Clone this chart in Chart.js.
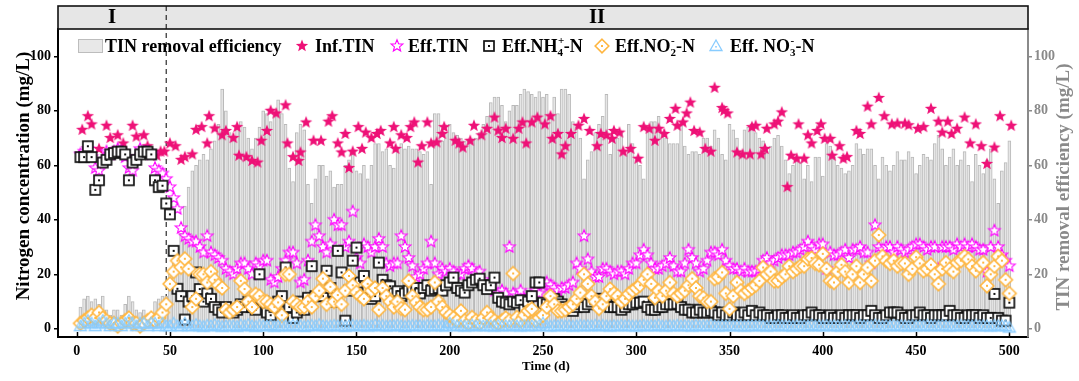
<!DOCTYPE html>
<html>
<head>
<meta charset="utf-8">
<script src="https://cdn.jsdelivr.net/npm/chart.js@4.4.1/dist/chart.umd.min.js"></script>
<style>
  html, body { margin: 0; padding: 0; background: #fff; }
  canvas { display: block; }
</style>
</head>
<body>
<canvas id="myChart" width="1079" height="381"></canvas>
<script>
// sampling days for bars and effluent series
const days = [
  2,4,6,8,10,12,14,16,18,20,22,24,26,28,30,32,34,36,38,40,
  42,44,46,48,50,52,54,56,58,60,62,64,66,68,70,72,74,76,78,80,
  82,84,86,88,90,92,94,96,98,100,102,104,106,108,110,112,114,116,118,120,
  122,124,126,128,130,132,134,136,138,140,142,144,146,148,150,152,154,156,158,160,
  162,164,166,168,170,172,174,176,178,180,182,184,186,188,190,192,194,196,198,200,
  202,204,206,208,210,212,214,216,218,220,222,224,226,228,230,232,234,236,238,240,
  242,244,246,248,250,252,254,256,258,260,262,264,266,268,270,272,274,276,278,280,
  282,284,286,288,290,292,294,296,298,300,302,304,306,308,310,312,314,316,318,320,
  322,324,326,328,330,332,334,336,338,340,342,344,346,348,350,352,354,356,358,360,
  362,364,366,368,370,372,374,376,378,380,382,384,386,388,390,392,394,396,398,400,
  402,404,406,408,410,412,414,416,418,420,422,424,426,428,430,432,434,436,438,440,
  442,444,446,448,450,452,454,456,458,460,462,464,466,468,470,472,474,476,478,480,
  482,484,486,488,490,492,494,496,498,500
];

// TIN removal efficiency (%), right axis
const removal = [
  8, 11, 12, 10, 11, 9, 12, 7, 5, 7,
  7, 5, 9, 12, 10, 7, 6, 7, 5, 4,
  10, 11, 12, 12, 20, 24, 30, 35, 45, 52,
  58, 60, 62, 64, 62, 66, 69, 75, 88, 80,
  72, 69, 74, 76, 74, 70, 66, 70, 74, 80,
  79, 76, 79, 84, 79, 75, 59, 54, 72, 75,
  73, 53, 46, 55, 60, 60, 56, 58, 52, 53,
  53, 60, 62, 64, 58, 57, 60, 55, 60, 68,
  68, 65, 66, 60, 59, 66, 68, 66, 67, 66,
  66, 65, 64, 65, 53, 79, 79, 69, 72, 75,
  72, 71, 70, 69, 69, 69, 70, 72, 75, 78,
  83, 85, 85, 82, 76, 80, 82, 82, 86, 88,
  87, 86, 85, 87, 85, 86, 79, 85, 79, 88,
  88, 86, 76, 74, 70, 55, 62, 65, 72, 75,
  78, 86, 64, 70, 70, 72, 64, 75, 68, 62,
  60, 55, 74, 76, 76, 78, 72, 70, 68, 68,
  68, 75, 67, 64, 65, 65, 64, 70, 70, 67,
  73, 70, 64, 62, 75, 73, 70, 65, 73, 74,
  75, 72, 70, 69, 65, 67, 70, 71, 67, 62,
  57, 60, 62, 61, 55, 60, 54, 63, 63, 56,
  68, 67, 63, 60, 59, 57, 58, 60, 68, 66,
  64, 66, 66, 60, 55, 63, 60, 58, 60, 65,
  62, 62, 65, 63, 57, 60, 64, 63, 62, 68,
  71, 66, 60, 63, 66, 60, 62, 65, 60, 54,
  64, 60, 57, 62, 66, 55, 46, 58, 61, 69
];

// influent TIN has its own sampling days
const infDays = [
  3, 6, 8, 12, 16, 18, 22, 25, 30, 32, 36, 38, 43, 45, 47, 50, 53, 56, 58, 62,
  64, 67, 70, 71, 74, 78, 80, 84, 86, 87, 91, 94, 97, 99, 102, 104, 107, 112, 113, 116,
  119, 120, 123, 127, 131, 135, 137, 140, 142, 144, 146, 148, 151, 153, 155, 158, 161, 163, 168, 170,
  171, 174, 177, 179, 181, 183, 185, 188, 190, 193, 196, 197, 203, 205, 207, 211, 213, 217, 220, 224,
  226, 228, 230, 234, 237, 239, 241, 244, 247, 251, 254, 255, 258, 260, 262, 265, 269, 272, 275, 279,
  281, 284, 287, 288, 291, 293, 297, 301, 304, 307, 310, 312, 315, 318, 321, 322, 325, 327, 329, 331,
  334, 337, 340, 342, 346, 347, 349, 354, 357, 361, 362, 364, 367, 369, 370, 374, 376, 378, 381, 383,
  386, 387, 390, 392, 394, 397, 399, 401, 404, 405, 409, 411, 413, 418, 420, 424, 426, 430, 433, 437,
  440, 444, 446, 451, 454, 458, 462, 464, 467, 469, 472, 476, 479, 482, 485, 488, 492, 495, 501
];
const infTin = [
  73, 78, 75, 66, 74.5, 70, 71, 68, 74.5, 70.5, 71, 67, 63.5, 65, 65, 68, 67, 62, 63, 64,
  73, 74, 68, 78, 73.5, 71, 72.6, 70, 74, 63.5, 63, 61.6, 61, 69, 72.6, 80, 79, 82, 68, 63,
  61.6, 64.7, 75.7, 69, 69, 76, 78, 68, 64.7, 71.5, 59, 65, 74, 66, 72, 70, 71.5, 72.6, 68, 74,
  66, 71, 70, 74, 75.7, 61, 67, 75.7, 68, 68.4, 71.5, 74, 69, 68, 66.5, 69, 74.5, 71, 73.4, 77.5,
  72.7, 70, 73.4, 69.7, 73.4, 75.7, 68, 75.7, 77.5, 75, 78, 69.7, 71.5, 64, 67, 71.5, 74.5, 77, 72.6, 67,
  71.5, 71, 69.7, 72.6, 72, 65, 66, 62.4, 74, 73.4, 69, 73.4, 71.5, 77, 80.7, 74.5, 75.7, 79, 83, 72.6,
  72, 66, 65, 88.4, 81, 80, 79, 64.7, 64, 64, 74, 74.5, 64, 66, 73.4, 75, 76, 79.4, 52, 63.5,
  62.4, 75, 62.4, 71, 68, 72.6, 75, 69.7, 69.7, 63.5, 67, 62.4, 63, 72.6, 71.5, 81.5, 75, 84.7, 78, 75,
  75.3, 75.3, 74.7, 73.4, 74, 80.7, 76, 72, 76, 71.5, 73.4, 77.5, 68, 75, 67, 60.5, 66.5, 78, 74.5
];

const effTin = [
  64, 65, 66, 63, 59, 58, 62, 65, 64, 65,
  66, 65, 63, 59, 58, 63, 66, 65, 65, 64,
  59, 58, 57, 55, 52, 48, 44, 37, 34, 33,
  32, 32, 30, 28, 34, 28, 27, 26, 25, 22,
  21, 20, 22, 24, 24, 22, 20, 24, 23, 25,
  25, 18, 17, 19, 22, 25, 28, 28, 24, 17,
  18, 25, 32, 38, 34, 30, 28, 31, 40, 38,
  38, 30, 32, 43, 26, 24, 31, 30, 28, 30,
  33, 30, 24, 23, 24, 24, 34, 30, 26, 23,
  19, 20, 22, 24, 32, 24, 20, 22, 21, 22,
  21, 20, 20, 22, 23, 22, 20, 21, 18, 15,
  16, 14, 13, 14, 13, 30, 13, 12, 14, 11,
  11, 12, 14, 13, 16, 17, 16, 15, 14, 15,
  15, 16, 17, 24, 22, 34, 25.5, 21, 19, 19,
  22, 22, 21, 20, 21, 21, 20, 22, 24, 24,
  27, 29, 27, 24, 22, 22, 23, 24, 26, 23,
  21, 21, 24, 29, 26, 24, 21, 22, 25, 28,
  28, 27, 29, 25, 23, 22, 22, 21, 22, 21,
  21, 21, 22, 25, 26, 24, 25, 26, 27, 27,
  27, 28, 28, 29, 30, 32, 30, 29, 31, 31,
  22, 28, 27, 27, 28, 29, 26, 29, 29, 30,
  28, 28, 24, 38, 30, 29, 30, 30, 28, 30,
  29, 28, 29, 30, 31, 31, 30, 29, 30, 30,
  22, 30, 30, 30, 29, 31, 30, 31, 30, 31,
  30, 29, 29, 21, 30, 36, 30, 27, 25, 23
];

const effNh4 = [
  63, 63, 67, 63, 51, 54.5, 61, 62, 64, 64.5,
  65, 65, 64, 54.5, 61, 62, 64, 65, 65, 64,
  54.5, 52, 52.5, 46, 42, 28.6, 14.7, 12, 3.4, 10,
  12, 20.7, 14.6, 10, 13, 11, 8, 7, 6, 8,
  6.6, 6, 7, 9, 8, 10, 8, 7, 20, 10,
  6, 5, 8, 10, 12, 22.5, 8, 4, 6, 10,
  7, 11.4, 23, 12, 12, 12, 21.3, 15, 10, 28.6,
  20.7, 3, 14, 25, 29.8, 17, 19.4, 15, 11, 12,
  24.3, 18, 16, 15.6, 13, 13.8, 12, 13, 14, 14,
  15, 13, 15, 16, 14, 14.6, 15, 14, 16, 17,
  18.8, 15, 14, 13.3, 16, 17, 18, 18.4, 16, 14.6,
  16, 18.8, 11.4, 10, 9.6, 9, 10, 9.6, 10.5, 7,
  10, 12, 17, 17, 9.6, 9, 10, 11, 10, 9,
  8, 7, 6.6, 8, 9, 8, 9, 10, 11, 11,
  10, 9, 8, 8, 8, 7, 8, 9, 9, 9.6,
  9.6, 10, 8, 7, 7, 8, 8, 9, 9, 9,
  9.2, 8, 7, 7, 6, 6, 7, 6, 6, 6.6,
  6, 5, 6, 5, 5, 6, 5, 5, 6, 5,
  6.6, 5, 6, 5, 5, 4, 4, 5, 5, 4,
  4, 5, 4, 4, 5, 5, 6, 5, 5, 4,
  4, 5, 4, 4, 5, 4, 5, 5, 5, 4,
  5, 5, 6.6, 5, 4, 4, 5, 6, 6, 6,
  5, 4, 4, 5, 5, 6, 5, 5, 4, 5,
  5, 5, 5, 6.6, 5, 5, 4, 4, 5, 5,
  5, 4, 5, 4, 4, 12.8, 4, 3, 3, 9.6
];

const effNo2 = [
  2, 3, 4, 5, 4, 6, 4, 3, 2, 2,
  1, 2, 3, 4, 2, 2, 1, 2, 3, 4,
  3, 4, 6, 9, 16.5, 21, 25, 22.6, 25.7, 22,
  8, 11, 20, 20, 17, 21, 18, 16, 15, 7,
  6, 7, 8, 17.6, 14.6, 10, 8, 12.7, 12, 10,
  10, 9, 8, 9.7, 5, 20, 20, 10, 9, 8,
  8, 10, 8, 12, 14, 18.4, 9, 15.4, 10, 12.4,
  9, 14, 19.4, 16, 13.4, 12, 11, 16.5, 14, 15,
  7, 15, 12, 10, 8, 10, 7.5, 7, 17.6, 12,
  9.7, 8, 7, 7, 8, 17, 10, 8, 6, 5,
  4, 3, 6.6, 3, 2, 4.2, 3, 2, 4, 6,
  4, 3, 2, 3, 4, 3, 20.3, 4.2, 3, 5,
  6.6, 7.3, 3, 4, 5, 8, 12, 9, 6.6, 6.6,
  7, 8, 9, 11, 13.3, 20, 16.5, 12, 10, 7.5,
  9, 12, 14.6, 13, 12, 10, 11, 12.8, 14, 15,
  16, 18, 20, 16.5, 11.4, 14, 12, 14, 17, 13,
  12, 13, 14, 16, 18.4, 15, 12, 11.4, 10, 10,
  18.4, 19, 20.7, 13, 7.3, 12, 17, 14, 13, 14,
  15, 16, 17.6, 22.5, 20, 21, 17.5, 17.6, 19, 20,
  23, 21, 22, 23, 23, 25.6, 26, 24, 23.5, 27.5,
  22, 17.6, 17, 21, 23.5, 21, 17, 20, 23, 17,
  20, 22.5, 17.6, 25, 34.4, 26.6, 25, 24, 25, 23,
  24, 24, 20, 22, 26.3, 24, 21.3, 22, 23.5, 20,
  16.5, 22, 24.3, 22, 21, 24.3, 25, 26.6, 25.5, 23,
  21.3, 23, 24.3, 15.8, 20, 23, 26.6, 25, 18, 13
];

const effNo3 = [
  1, 2, 3, 2, 1, 2, 3, 2, 1, 2,
  2, 1, 2, 3, 2, 1, 2, 2, 1, 2,
  2, 1, 2, 1, 1, 2, 1, 1, 2, 1,
  1, 1.5, 1, 0.8, 1.2, 1, 1.5, 1, 0.8, 1,
  1.2, 1, 0.8, 1.3, 1, 1.5, 1, 0.8, 1.2, 1,
  1, 1.4, 0.8, 1, 1.2, 1, 0.9, 1.3, 1, 1.1,
  0.8, 1, 1.2, 1, 1.5, 1, 0.9, 1, 1.2, 1,
  1, 0.8, 1.1, 1.3, 1, 1, 1.2, 0.9, 1, 1.4,
  1, 1.2, 0.9, 1, 1.1, 1.3, 1, 0.8, 1, 1.2,
  1, 1.1, 0.9, 1.2, 1, 1, 1.3, 1, 0.9, 2,
  1.2, 1, 1.1, 0.9, 1, 1.3, 1, 1.2, 1, 1.1,
  1, 0.9, 1.2, 1, 1.1, 1, 1.3, 1, 0.9, 1.2,
  1, 1.1, 1, 1.2, 2, 1, 0.9, 1.1, 1, 1.2,
  1, 1.1, 0.9, 1, 1.2, 1, 1.1, 1, 1.3, 1,
  1.2, 1, 0.9, 1.1, 1, 1.2, 1, 1.1, 1, 0.9,
  1, 1.2, 1, 1.1, 1, 1.3, 1, 0.9, 1.1, 1,
  1.2, 1, 1.1, 1, 0.9, 1.2, 1, 1.1, 1, 1.2,
  1, 0.9, 1.1, 1, 1.2, 1, 1.1, 1, 0.9, 1,
  1.1, 1, 1.2, 1, 0.9, 1.1, 1, 1.2, 1, 1.1,
  1, 0.9, 1.2, 1, 1.1, 1, 1.3, 1, 1.1, 1,
  1.2, 1, 1.1, 1, 0.9, 1.2, 1, 1.1, 1, 1.2,
  1, 1.1, 1, 1.3, 1, 0.9, 1.1, 1, 1.2, 1,
  1.1, 1, 0.9, 1.2, 1, 1.1, 1, 1.2, 1, 1.1,
  1, 1.2, 1, 0.9, 1.1, 1, 1.2, 1, 1.1, 1,
  1.2, 1, 1.1, 1, 0.9, 1.2, 1, 1.1, 1, 0.5
];

const xTicks = [0, 50, 100, 150, 200, 250, 300, 350, 400, 450, 500];
const yTicks = [0, 20, 40, 60, 80, 100];
const phaseSplit = 48;
const phaseNames = ['I', 'II'];

const serif = "'Liberation Serif', 'Times New Roman', serif";
const grey = '#8a8a8a';

// marker images
function marker(size, draw) {
    const c = document.createElement('canvas');
    c.width = size; c.height = size;
    const g = c.getContext('2d');
    g.translate(size / 2, size / 2);
    draw(g);
    return c;
}
function starPath(g, R, r) {
    g.beginPath();
    for (let k = 0; k < 10; k++) {
        const a = -Math.PI / 2 + k * Math.PI / 5;
        const rad = k % 2 ? r : R;
        g.lineTo(Math.cos(a) * rad, Math.sin(a) * rad);
    }
    g.closePath();
}
const starFilled = marker(16, g => {
    starPath(g, 6.5, 2.8);
    g.fillStyle = '#ee1177'; g.fill();
});
const starOpen = marker(16, g => {
    starPath(g, 6.2, 2.7);
    g.fillStyle = '#fff'; g.fill();
    g.strokeStyle = '#ff00ff'; g.lineWidth = 1.1; g.stroke();
});
const squareDot = marker(14, g => {
    g.fillStyle = '#fff'; g.fillRect(-5, -5, 10, 10);
    g.strokeStyle = '#111'; g.lineWidth = 1.7; g.strokeRect(-5, -5, 10, 10);
    g.fillStyle = '#111'; g.fillRect(-1, -1, 2, 2);
});
const diamondDot = marker(18, g => {
    g.beginPath(); g.moveTo(0, -6.8); g.lineTo(6.8, 0); g.lineTo(0, 6.8); g.lineTo(-6.8, 0); g.closePath();
    g.fillStyle = '#fff'; g.fill();
    g.strokeStyle = '#ffb640'; g.lineWidth = 1.6; g.stroke();
    g.fillStyle = '#ffb640'; g.fillRect(-1, -1, 2, 2);
});
const triangleDot = marker(16, g => {
    g.beginPath(); g.moveTo(0, -6); g.lineTo(6, 4.5); g.lineTo(-6, 4.5); g.closePath();
    g.strokeStyle = '#88ccff'; g.lineWidth = 1.3; g.stroke();
    g.fillStyle = '#88ccff'; g.fillRect(-0.8, 0, 1.6, 1.6);
});

function pts(xs, ys) { return xs.map((d, i) => ({x: d, y: ys[i]})); }

function drawParts(ctx, x, y, parts) {
    for (const p of parts) {
        if (typeof p === 'string') {
            ctx.font = 'bold 18px ' + serif;
            ctx.fillText(p, x, y);
            x += ctx.measureText(p).width;
        } else {
            ctx.font = 'bold 11px ' + serif;
            ctx.fillText(p[0], x, y + 4);
            ctx.fillText(p[1], x + 0.5, y - 8);
            x += Math.max(ctx.measureText(p[0]).width, ctx.measureText(p[1]).width);
        }
    }
}

const decor = {
    id: 'decor',
    beforeDatasetsDraw(chart) {
        const {ctx, chartArea: a, scales: {x}} = chart;
        ctx.save();
        ctx.fillStyle = '#e6e6e6';
        ctx.fillRect(a.left, 6, a.right - a.left, a.top - 6);
        const px = x.getPixelForValue(phaseSplit);
        ctx.strokeStyle = '#000'; ctx.lineWidth = 1; ctx.setLineDash([5, 4]);
        ctx.beginPath(); ctx.moveTo(px, 6); ctx.lineTo(px, a.bottom); ctx.stroke();
        ctx.setLineDash([]);
        ctx.lineWidth = 1.6; ctx.strokeStyle = '#111';
        ctx.strokeRect(a.left, 6, a.right - a.left, a.top - 6);
        // x ticks point inward
        ctx.lineWidth = 1.5; ctx.strokeStyle = '#000';
        xTicks.forEach(v => {
            const tx = Math.round(x.getPixelForValue(v)) + 0.5;
            ctx.beginPath(); ctx.moveTo(tx, a.bottom); ctx.lineTo(tx, a.bottom - 5); ctx.stroke();
        });
        ctx.fillStyle = '#000'; ctx.font = 'bold 21px ' + serif;
        ctx.textAlign = 'center'; ctx.textBaseline = 'middle';
        ctx.fillText(phaseNames[0], x.getPixelForValue((x.min + phaseSplit) / 2), 18);
        ctx.fillText(phaseNames[1], x.getPixelForValue((x.max + phaseSplit) / 2), 18);
        ctx.restore();
    },
    afterDraw(chart) {
        const {ctx, chartArea: a} = chart;
        ctx.save();
        // legend
        const ly = 46, by = 52;
        ctx.fillStyle = '#e8e8e8'; ctx.fillRect(78, 39, 24, 13);
        ctx.strokeStyle = '#bdbdbd'; ctx.lineWidth = 1; ctx.strokeRect(78.5, 39.5, 24, 13);
        ctx.fillStyle = '#000'; ctx.textAlign = 'left'; ctx.textBaseline = 'alphabetic';
        drawParts(ctx, 105, by, ['TIN removal efficiency']);
        const icons = [[starFilled, 302], [starOpen, 397], [squareDot, 489], [diamondDot, 602], [triangleDot, 716]];
        icons.forEach(([img, cx]) => ctx.drawImage(img, cx - img.width / 2, ly - img.height / 2));
        drawParts(ctx, 315, by, ['Inf.TIN']);
        drawParts(ctx, 408, by, ['Eff.TIN']);
        drawParts(ctx, 502, by, ['Eff.NH', ['4', '+'], '-N']);
        drawParts(ctx, 615, by, ['Eff.NO', ['2', '-'], '-N']);
        drawParts(ctx, 730, by, ['Eff. NO', ['3', '-'], '-N']);

        // axis titles
        ctx.font = 'bold 19px ' + serif;
        ctx.textAlign = 'center'; ctx.textBaseline = 'middle';
        ctx.save(); ctx.translate(24, 176); ctx.rotate(-Math.PI / 2);
        ctx.fillStyle = '#000'; ctx.fillText('Nitrogen concentration (mg/L)', 0, 0); ctx.restore();
        ctx.save(); ctx.translate(1064, 187); ctx.rotate(-Math.PI / 2);
        ctx.fillStyle = grey; ctx.fillText('TIN removal efficiency (mg/L)', 0, 0); ctx.restore();
        ctx.font = 'bold 13px ' + serif; ctx.fillStyle = '#000';
        ctx.fillText('Time (d)', (a.left + a.right) / 2 + 3, 367);
        ctx.restore();
    }
};

const tickFont = {family: serif, size: 14, weight: 'bold'};

const ctx = document.getElementById('myChart').getContext('2d');

const myChart = new Chart(ctx, {
    type: 'bar',
    data: {
        datasets: [{
            type: 'bar',
            label: 'TIN removal efficiency',
            data: pts(days, removal),
            yAxisID: 'y1',
            backgroundColor: '#e6e6e6',
            borderColor: '#b9b9b9',
            borderWidth: 1,
            barThickness: 3,
            order: 6
        }, {
            type: 'scatter',
            label: 'Inf.TIN',
            data: pts(infDays, infTin),
            pointStyle: starFilled,
            order: 5
        }, {
            type: 'scatter',
            label: 'Eff.TIN',
            data: pts(days, effTin),
            pointStyle: starOpen,
            order: 4
        }, {
            type: 'scatter',
            label: 'Eff.NH4-N',
            data: pts(days, effNh4),
            pointStyle: squareDot,
            order: 3
        }, {
            type: 'scatter',
            label: 'Eff.NO2-N',
            data: pts(days, effNo2),
            pointStyle: diamondDot,
            order: 2
        }, {
            type: 'scatter',
            label: 'Eff. NO3-N',
            data: pts(days, effNo3),
            pointStyle: triangleDot,
            order: 1
        }]
    },
    options: {
        responsive: false,
        maintainAspectRatio: false,
        animation: false,
        layout: {padding: {top: 29}},
        scales: {
            x: {
                type: 'linear',
                offset: false,
                min: -10,
                max: 510,
                afterBuildTicks: s => { s.ticks = xTicks.map(v => ({value: v})); },
                afterFit: s => { s.height = 44; },
                ticks: {font: tickFont, color: '#000', padding: 0, maxRotation: 0},
                grid: {display: false, offset: false, tickLength: 6},
                border: {color: '#000', width: 2}
            },
            y: {
                position: 'left',
                min: -3,
                max: 110,
                afterBuildTicks: s => { s.ticks = yTicks.map(v => ({value: v})); },
                afterFit: s => { s.width = 58; },
                ticks: {font: tickFont, color: '#000', padding: 3},
                grid: {drawOnChartArea: false, tickLength: 4, color: '#000', lineWidth: 1.5},
                border: {color: '#000', width: 2}
            },
            y1: {
                position: 'right',
                min: -3,
                max: 110,
                afterBuildTicks: s => { s.ticks = yTicks.map(v => ({value: v})); },
                afterFit: s => { s.width = 51; },
                ticks: {font: tickFont, color: grey, padding: 2},
                grid: {drawOnChartArea: false, tickLength: 4, color: grey, lineWidth: 1.5},
                border: {color: grey, width: 2}
            }
        },
        plugins: {
            legend: {display: false},
            tooltip: {enabled: false}
        }
    },
    plugins: [decor]
});
</script>
</body>
</html>
